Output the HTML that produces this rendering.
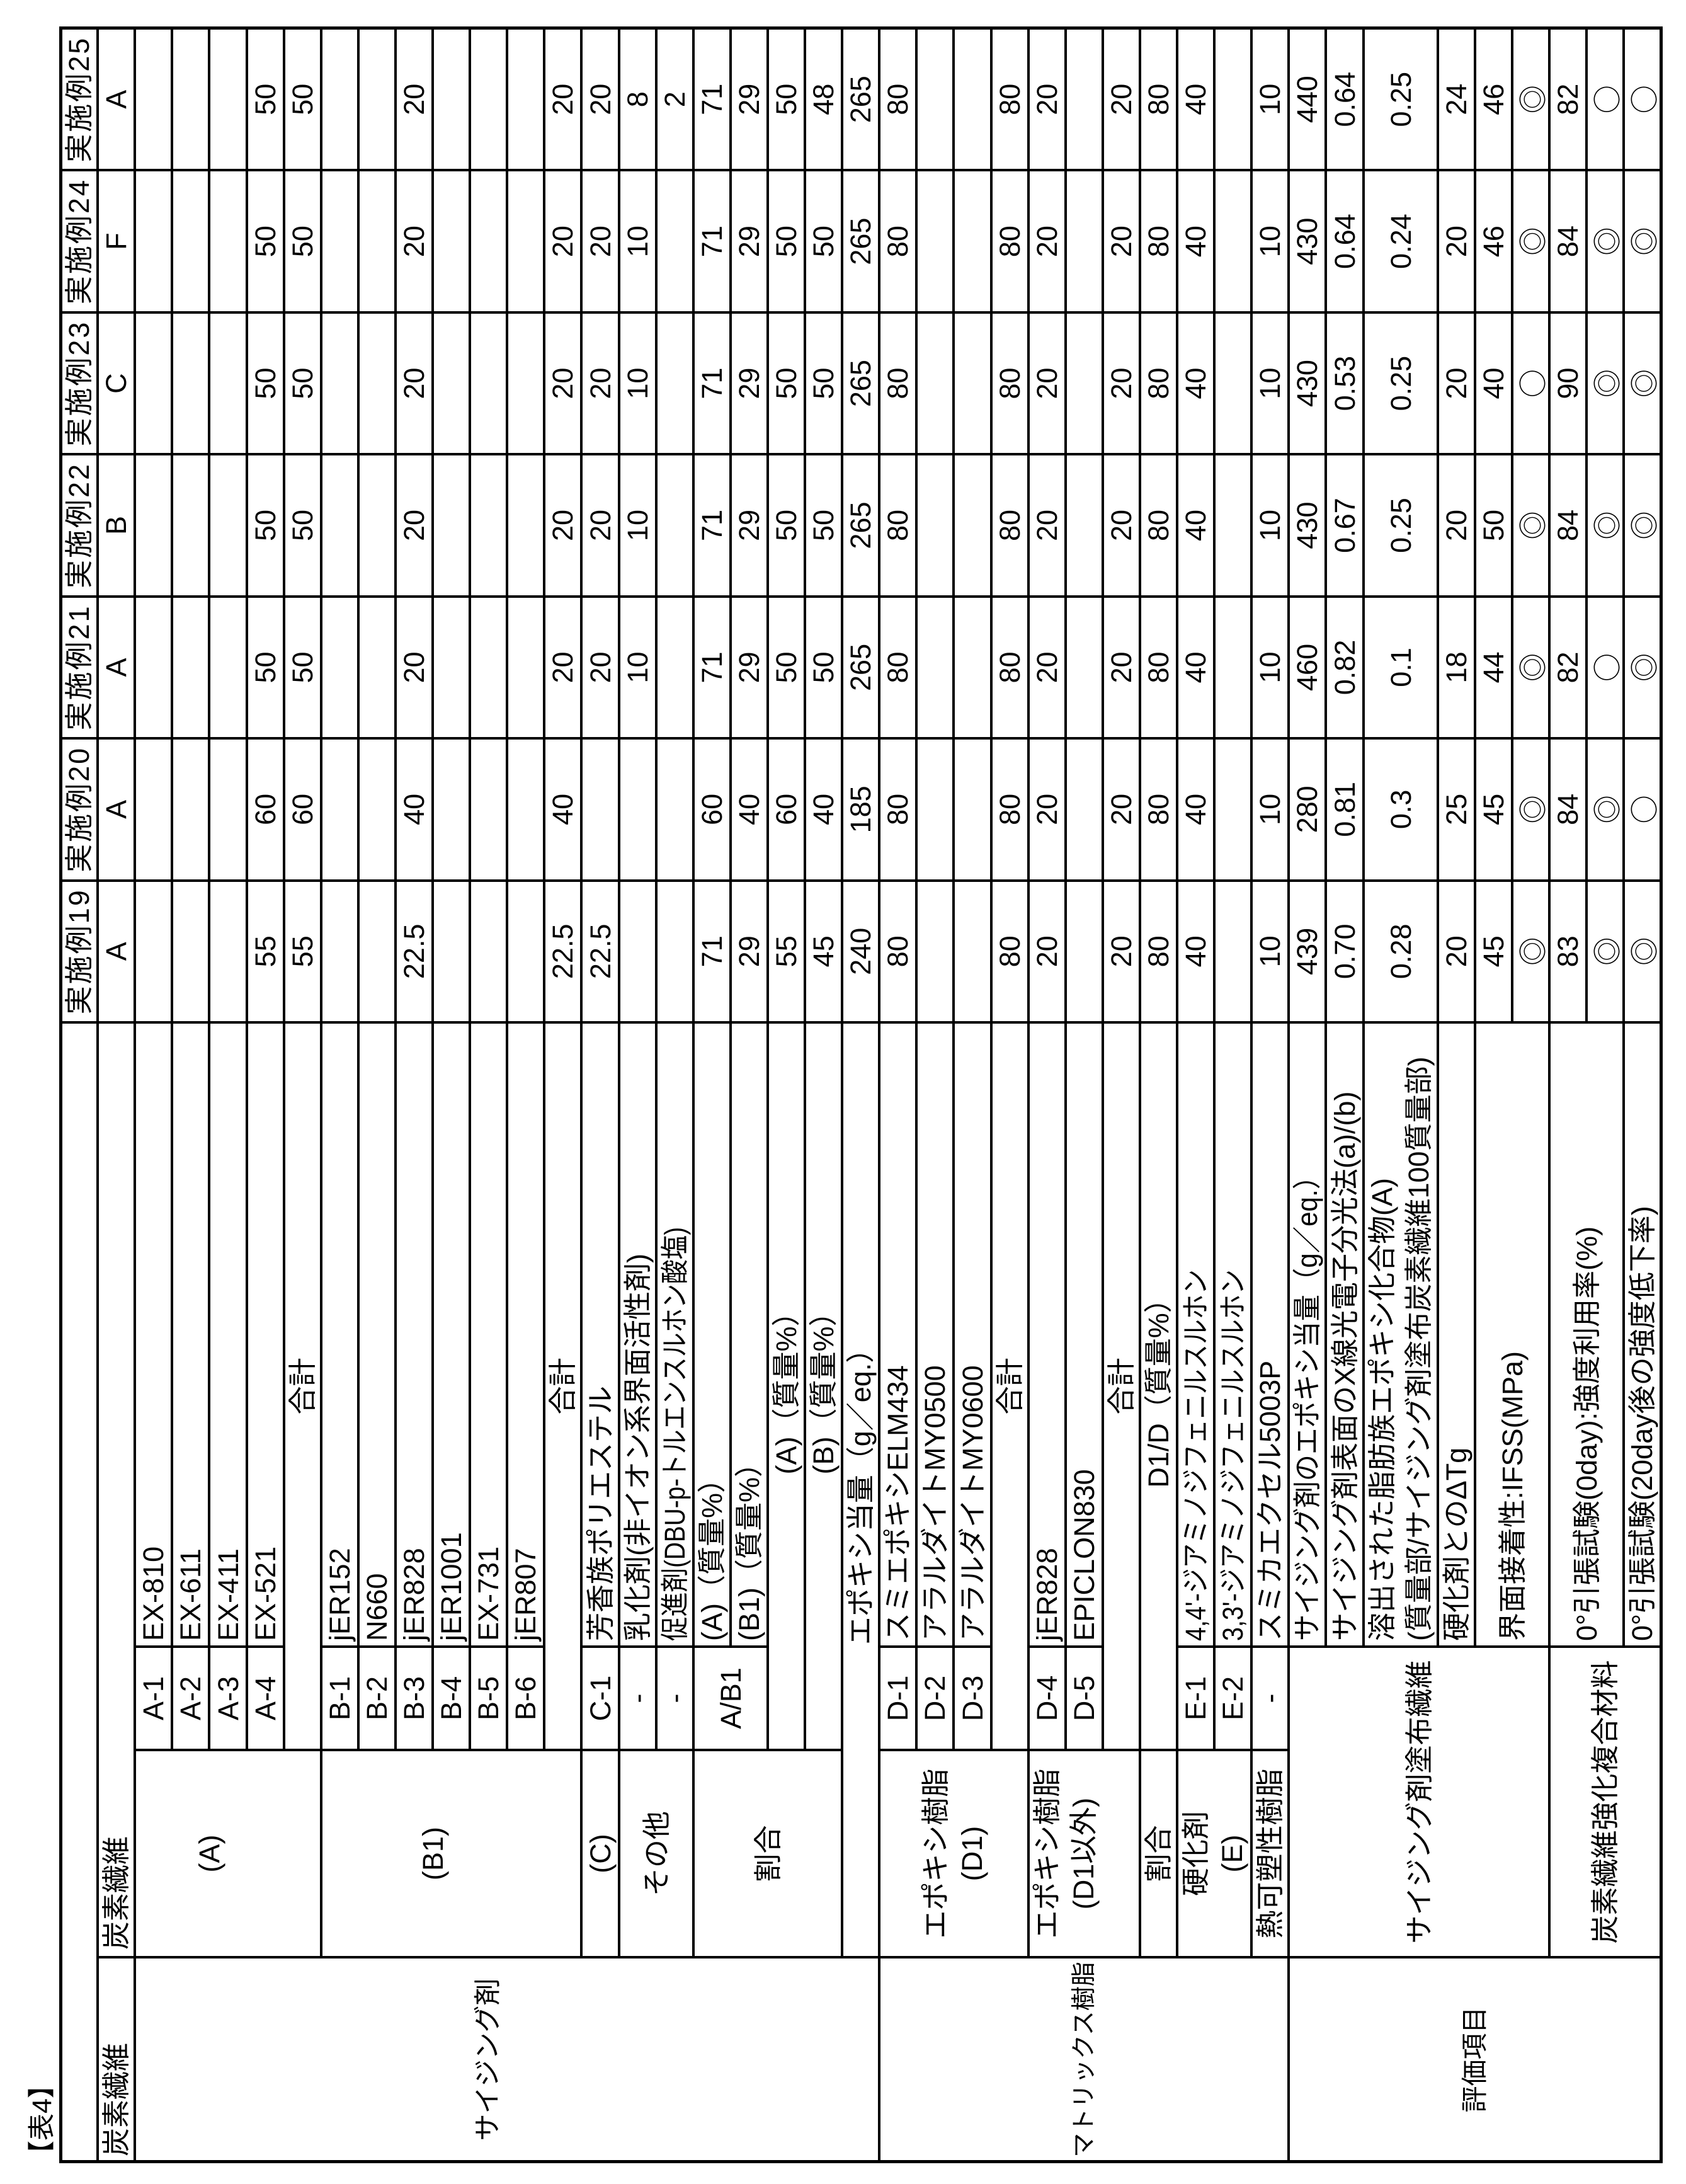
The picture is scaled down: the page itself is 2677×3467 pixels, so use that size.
<!DOCTYPE html>
<html><head><meta charset="utf-8"><style>
html,body{margin:0;padding:0;background:#fff}
body{width:2677px;height:3467px;position:relative;overflow:hidden}
#t{position:absolute;left:0;top:0;width:3467px;height:2677px;transform-origin:0 0;transform:translateY(3467px) rotate(-90deg);font-family:"Liberation Sans","Noto Sans CJK JP",sans-serif;font-size:45px;color:#000}
#t div{position:absolute}
.h{height:4px;background:#000}
.v{width:4px;background:#000}
.c{display:flex;align-items:center;justify-content:center;white-space:nowrap;line-height:1}
.l{justify-content:flex-start;padding-left:9px;box-sizing:border-box}
.r{left:1844px;width:1578px;display:grid;grid-template-columns:repeat(7,1fr)}
.r span{display:flex;align-items:center;justify-content:center;white-space:nowrap;line-height:1}
.j{font-family:"Noto Sans CJK JP",sans-serif}
.two{display:block;text-align:center;line-height:58px}
.twol{display:block;text-align:left;line-height:58px}
.sx{display:inline-block;transform-origin:0 50%}
</style></head><body><div id="t">
<!-- horizontal lines -->
<div class="h" style="left:33px;top:94px;width:3391px;height:5px"></div>
<div class="h" style="left:33px;top:2635px;width:3391px;height:5px"></div>
<div class="h" style="left:35px;top:153px;width:3389px"></div>
<div class="h" style="left:35px;top:212px;width:3389px"></div>
<div class="h" style="left:687px;top:271px;width:2737px"></div>
<div class="h" style="left:687px;top:330px;width:2737px"></div>
<div class="h" style="left:687px;top:390px;width:2737px"></div>
<div class="h" style="left:687px;top:449px;width:2737px"></div>
<div class="h" style="left:358px;top:508px;width:3066px"></div>
<div class="h" style="left:687px;top:567px;width:2737px"></div>
<div class="h" style="left:687px;top:626px;width:2737px"></div>
<div class="h" style="left:687px;top:685px;width:2737px"></div>
<div class="h" style="left:687px;top:744px;width:2737px"></div>
<div class="h" style="left:687px;top:803px;width:2737px"></div>
<div class="h" style="left:687px;top:862px;width:2737px"></div>
<div class="h" style="left:358px;top:921px;width:3066px"></div>
<div class="h" style="left:358px;top:981px;width:3066px"></div>
<div class="h" style="left:687px;top:1040px;width:2737px"></div>
<div class="h" style="left:358px;top:1099px;width:3066px"></div>
<div class="h" style="left:851px;top:1158px;width:2573px"></div>
<div class="h" style="left:687px;top:1217px;width:2737px"></div>
<div class="h" style="left:687px;top:1276px;width:2737px"></div>
<div class="h" style="left:358px;top:1335px;width:3066px"></div>
<div class="h" style="left:35px;top:1394px;width:3389px"></div>
<div class="h" style="left:687px;top:1453px;width:2737px"></div>
<div class="h" style="left:687px;top:1512px;width:2737px"></div>
<div class="h" style="left:687px;top:1572px;width:2737px"></div>
<div class="h" style="left:358px;top:1631px;width:3066px"></div>
<div class="h" style="left:687px;top:1690px;width:2737px"></div>
<div class="h" style="left:687px;top:1749px;width:2737px"></div>
<div class="h" style="left:358px;top:1808px;width:3066px"></div>
<div class="h" style="left:358px;top:1867px;width:3066px"></div>
<div class="h" style="left:687px;top:1926px;width:2737px"></div>
<div class="h" style="left:358px;top:1985px;width:3066px"></div>
<div class="h" style="left:35px;top:2044px;width:3389px"></div>
<div class="h" style="left:851px;top:2103px;width:2573px"></div>
<div class="h" style="left:851px;top:2163px;width:2573px"></div>
<div class="h" style="left:851px;top:2281px;width:2573px"></div>
<div class="h" style="left:851px;top:2340px;width:2573px"></div>
<div class="h" style="left:1842px;top:2399px;width:1582px"></div>
<div class="h" style="left:358px;top:2458px;width:3066px"></div>
<div class="h" style="left:1842px;top:2517px;width:1582px"></div>
<div class="h" style="left:851px;top:2576px;width:2573px"></div>
<!-- vertical lines -->
<div class="v" style="left:33px;top:94px;height:2546px;width:5px"></div>
<div class="v" style="left:358px;top:155px;height:2482px"></div>
<div class="v" style="left:687px;top:214px;height:1123px"></div>
<div class="v" style="left:687px;top:1396px;height:650px"></div>
<div class="v" style="left:851px;top:214px;height:237px"></div>
<div class="v" style="left:851px;top:510px;height:354px"></div>
<div class="v" style="left:851px;top:923px;height:296px"></div>
<div class="v" style="left:851px;top:1396px;height:178px"></div>
<div class="v" style="left:851px;top:1633px;height:118px"></div>
<div class="v" style="left:851px;top:1869px;height:768px"></div>
<div class="v" style="left:1842px;top:96px;height:2541px"></div>
<div class="v" style="left:2067px;top:96px;height:2541px"></div>
<div class="v" style="left:2293px;top:96px;height:2541px"></div>
<div class="v" style="left:2518px;top:96px;height:2541px"></div>
<div class="v" style="left:2744px;top:96px;height:2541px"></div>
<div class="v" style="left:2969px;top:96px;height:2541px"></div>
<div class="v" style="left:3195px;top:96px;height:2541px"></div>
<div class="v" style="left:3420px;top:94px;height:2546px;width:5px"></div>

<!-- title -->
<div class="c" style="left:26px;top:44px;height:46px;font-size:43px;justify-content:flex-start">【表4】</div>

<!-- category column -->
<div class="c l" style="left:35px;top:155px;width:325px;height:59px">炭素繊維</div>
<div class="c" style="left:35px;top:214px;width:325px;height:1123px;font-size:43px">サイジング剤</div>
<div class="c" style="left:35px;top:1396px;width:325px;height:650px;font-size:39px">マトリックス樹脂</div>
<div class="c" style="left:35px;top:2046px;width:325px;height:591px;font-size:42px">評価項目</div>

<!-- sub column -->
<div class="c l" style="left:360px;top:155px;width:1484px;height:59px;padding-left:12px">炭素繊維</div>
<div class="c" style="left:360px;top:214px;width:329px;height:237px">(A)</div>
<div class="c" style="left:360px;top:510px;width:329px;height:354px">(B1)</div>
<div class="c" style="left:360px;top:923px;width:329px;height:60px">(C)</div>
<div class="c" style="left:360px;top:983px;width:329px;height:118px">その他</div>
<div class="c" style="left:360px;top:1101px;width:329px;height:236px">割合</div>
<div class="c" style="left:360px;top:1337px;width:1484px;height:59px">エポキシ当量（g／eq.）</div>
<div class="c" style="left:360px;top:1396px;width:329px;height:237px"><span class="two">エポキシ樹脂<br>(D1)</span></div>
<div class="c" style="left:360px;top:1633px;width:329px;height:118px"><span class="two">エポキシ樹脂<br>(D1以外)</span></div>
<div class="c" style="left:360px;top:1810px;width:329px;height:59px">割合</div>
<div class="c" style="left:360px;top:1869px;width:329px;height:118px"><span class="two">硬化剤<br>(E)</span></div>
<div class="c" style="left:360px;top:1987px;width:329px;height:59px">熱可塑性樹脂</div>
<div class="c" style="left:360px;top:2046px;width:493px;height:414px">サイジング剤塗布繊維</div>
<div class="c" style="left:360px;top:2460px;width:493px;height:177px">炭素繊維強化複合材料</div>

<!-- code column -->
<div class="c" style="left:689px;top:214px;width:164px;height:59px">A-1</div>
<div class="c" style="left:689px;top:273px;width:164px;height:59px">A-2</div>
<div class="c" style="left:689px;top:332px;width:164px;height:60px">A-3</div>
<div class="c" style="left:689px;top:392px;width:164px;height:59px">A-4</div>
<div class="c" style="left:689px;top:510px;width:164px;height:59px">B-1</div>
<div class="c" style="left:689px;top:569px;width:164px;height:59px">B-2</div>
<div class="c" style="left:689px;top:628px;width:164px;height:59px">B-3</div>
<div class="c" style="left:689px;top:687px;width:164px;height:59px">B-4</div>
<div class="c" style="left:689px;top:746px;width:164px;height:59px">B-5</div>
<div class="c" style="left:689px;top:805px;width:164px;height:59px">B-6</div>
<div class="c" style="left:689px;top:923px;width:164px;height:60px">C-1</div>
<div class="c" style="left:689px;top:983px;width:164px;height:59px">-</div>
<div class="c" style="left:689px;top:1042px;width:164px;height:59px">-</div>
<div class="c" style="left:689px;top:1101px;width:164px;height:118px">A/B1</div>
<div class="c" style="left:689px;top:1396px;width:164px;height:59px">D-1</div>
<div class="c" style="left:689px;top:1455px;width:164px;height:59px">D-2</div>
<div class="c" style="left:689px;top:1514px;width:164px;height:60px">D-3</div>
<div class="c" style="left:689px;top:1633px;width:164px;height:59px">D-4</div>
<div class="c" style="left:689px;top:1692px;width:164px;height:59px">D-5</div>
<div class="c" style="left:689px;top:1869px;width:164px;height:59px">E-1</div>
<div class="c" style="left:689px;top:1928px;width:164px;height:59px">E-2</div>
<div class="c" style="left:689px;top:1987px;width:164px;height:59px">-</div>

<!-- merged code+name centered -->
<div class="c" style="left:689px;top:451px;width:1155px;height:59px">合計</div>
<div class="c" style="left:689px;top:864px;width:1155px;height:59px">合計</div>
<div class="c" style="left:689px;top:1219px;width:1155px;height:59px">(A)（質量%）</div>
<div class="c" style="left:689px;top:1278px;width:1155px;height:59px">(B)（質量%）</div>
<div class="c" style="left:689px;top:1574px;width:1155px;height:59px">合計</div>
<div class="c" style="left:689px;top:1751px;width:1155px;height:59px">合計</div>
<div class="c" style="left:689px;top:1810px;width:1155px;height:59px">D1/D（質量%）</div>

<!-- name column -->
<div class="c l" style="left:853px;top:214px;width:991px;height:59px">EX-810</div>
<div class="c l" style="left:853px;top:273px;width:991px;height:59px">EX-611</div>
<div class="c l" style="left:853px;top:332px;width:991px;height:60px">EX-411</div>
<div class="c l" style="left:853px;top:392px;width:991px;height:59px">EX-521</div>
<div class="c l" style="left:853px;top:510px;width:991px;height:59px">jER152</div>
<div class="c l" style="left:853px;top:569px;width:991px;height:59px">N660</div>
<div class="c l" style="left:853px;top:628px;width:991px;height:59px">jER828</div>
<div class="c l" style="left:853px;top:687px;width:991px;height:59px">jER1001</div>
<div class="c l" style="left:853px;top:746px;width:991px;height:59px">EX-731</div>
<div class="c l" style="left:853px;top:805px;width:991px;height:59px">jER807</div>
<div class="c l" style="left:853px;top:923px;width:991px;height:60px">芳香族ポリエステル</div>
<div class="c l" style="left:853px;top:983px;width:991px;height:59px">乳化剤(非イオン系界面活性剤)</div>
<div class="c l" style="left:853px;top:1042px;width:991px;height:59px"><span class="sx" style="transform:scaleX(.86)">促進剤(DBU-p-トルエンスルホン酸塩)</span></div>
<div class="c l" style="left:853px;top:1101px;width:991px;height:59px">(A)（質量%）</div>
<div class="c l" style="left:853px;top:1160px;width:991px;height:59px">(B1)（質量%）</div>
<div class="c l" style="left:853px;top:1396px;width:991px;height:59px">スミエポキシELM434</div>
<div class="c l" style="left:853px;top:1455px;width:991px;height:59px">アラルダイトMY0500</div>
<div class="c l" style="left:853px;top:1514px;width:991px;height:60px">アラルダイトMY0600</div>
<div class="c l" style="left:853px;top:1633px;width:991px;height:59px">jER828</div>
<div class="c l" style="left:853px;top:1692px;width:991px;height:59px">EPICLON830</div>
<div class="c l" style="left:853px;top:1869px;width:991px;height:59px"><span class="sx" style="transform:scaleX(.88)">4,4'-ジアミノジフェニルスルホン</span></div>
<div class="c l" style="left:853px;top:1928px;width:991px;height:59px"><span class="sx" style="transform:scaleX(.88)">3,3'-ジアミノジフェニルスルホン</span></div>
<div class="c l" style="left:853px;top:1987px;width:991px;height:59px">スミカエクセル5003P</div>
<div class="c l" style="left:853px;top:2046px;width:991px;height:59px"><span class="sx" style="transform:scaleX(.94)">サイジング剤のエポキシ当量（g／eq.）</span></div>
<div class="c l" style="left:853px;top:2105px;width:991px;height:60px">サイジング剤表面のX線光電子分光法(a)/(b)</div>
<div class="c l" style="left:853px;top:2165px;width:991px;height:118px"><span class="twol">溶出された脂肪族エポキシ化合物(A)<br>(質量部/サイジング剤塗布炭素繊維100質量部)</span></div>
<div class="c l" style="left:853px;top:2283px;width:991px;height:59px">硬化剤とのΔTg</div>
<div class="c l" style="left:853px;top:2342px;width:991px;height:118px">界面接着性:IFSS(MPa)</div>
<div class="c l" style="left:853px;top:2460px;width:991px;height:118px">0°引張試験(0day):強度利用率(%)</div>
<div class="c l" style="left:853px;top:2578px;width:991px;height:59px">0°引張試験(20day後の強度低下率)</div>

<!-- example values -->
<div class="r" style="top:96px;height:59px;letter-spacing:3px"><span>実施例19</span><span>実施例20</span><span>実施例21</span><span>実施例22</span><span>実施例23</span><span>実施例24</span><span>実施例25</span></div>
<div class="r" style="top:155px;height:59px"><span>A</span><span>A</span><span>A</span><span>B</span><span>C</span><span>F</span><span>A</span></div>
<div class="r" style="top:392px;height:59px"><span>55</span><span>60</span><span>50</span><span>50</span><span>50</span><span>50</span><span>50</span></div>
<div class="r" style="top:451px;height:59px"><span>55</span><span>60</span><span>50</span><span>50</span><span>50</span><span>50</span><span>50</span></div>
<div class="r" style="top:628px;height:59px"><span>22.5</span><span>40</span><span>20</span><span>20</span><span>20</span><span>20</span><span>20</span></div>
<div class="r" style="top:864px;height:59px"><span>22.5</span><span>40</span><span>20</span><span>20</span><span>20</span><span>20</span><span>20</span></div>
<div class="r" style="top:923px;height:60px"><span>22.5</span><span></span><span>20</span><span>20</span><span>20</span><span>20</span><span>20</span></div>
<div class="r" style="top:983px;height:59px"><span></span><span></span><span>10</span><span>10</span><span>10</span><span>10</span><span>8</span></div>
<div class="r" style="top:1042px;height:59px"><span></span><span></span><span></span><span></span><span></span><span></span><span>2</span></div>
<div class="r" style="top:1101px;height:59px"><span>71</span><span>60</span><span>71</span><span>71</span><span>71</span><span>71</span><span>71</span></div>
<div class="r" style="top:1160px;height:59px"><span>29</span><span>40</span><span>29</span><span>29</span><span>29</span><span>29</span><span>29</span></div>
<div class="r" style="top:1219px;height:59px"><span>55</span><span>60</span><span>50</span><span>50</span><span>50</span><span>50</span><span>50</span></div>
<div class="r" style="top:1278px;height:59px"><span>45</span><span>40</span><span>50</span><span>50</span><span>50</span><span>50</span><span>48</span></div>
<div class="r" style="top:1337px;height:59px"><span>240</span><span>185</span><span>265</span><span>265</span><span>265</span><span>265</span><span>265</span></div>
<div class="r" style="top:1396px;height:59px"><span>80</span><span>80</span><span>80</span><span>80</span><span>80</span><span>80</span><span>80</span></div>
<div class="r" style="top:1574px;height:59px"><span>80</span><span>80</span><span>80</span><span>80</span><span>80</span><span>80</span><span>80</span></div>
<div class="r" style="top:1633px;height:59px"><span>20</span><span>20</span><span>20</span><span>20</span><span>20</span><span>20</span><span>20</span></div>
<div class="r" style="top:1751px;height:59px"><span>20</span><span>20</span><span>20</span><span>20</span><span>20</span><span>20</span><span>20</span></div>
<div class="r" style="top:1810px;height:59px"><span>80</span><span>80</span><span>80</span><span>80</span><span>80</span><span>80</span><span>80</span></div>
<div class="r" style="top:1869px;height:59px"><span>40</span><span>40</span><span>40</span><span>40</span><span>40</span><span>40</span><span>40</span></div>
<div class="r" style="top:1987px;height:59px"><span>10</span><span>10</span><span>10</span><span>10</span><span>10</span><span>10</span><span>10</span></div>
<div class="r" style="top:2046px;height:59px"><span>439</span><span>280</span><span>460</span><span>430</span><span>430</span><span>430</span><span>440</span></div>
<div class="r" style="top:2105px;height:60px"><span>0.70</span><span>0.81</span><span>0.82</span><span>0.67</span><span>0.53</span><span>0.64</span><span>0.64</span></div>
<div class="r" style="top:2165px;height:118px"><span>0.28</span><span>0.3</span><span>0.1</span><span>0.25</span><span>0.25</span><span>0.24</span><span>0.25</span></div>
<div class="r" style="top:2283px;height:59px"><span>20</span><span>25</span><span>18</span><span>20</span><span>20</span><span>20</span><span>24</span></div>
<div class="r" style="top:2342px;height:59px"><span>45</span><span>45</span><span>44</span><span>50</span><span>40</span><span>46</span><span>46</span></div>
<div class="r j" style="top:2401px;height:59px"><span>◎</span><span>◎</span><span>◎</span><span>◎</span><span>○</span><span>◎</span><span>◎</span></div>
<div class="r" style="top:2460px;height:59px"><span>83</span><span>84</span><span>82</span><span>84</span><span>90</span><span>84</span><span>82</span></div>
<div class="r j" style="top:2519px;height:59px"><span>◎</span><span>◎</span><span>○</span><span>◎</span><span>◎</span><span>◎</span><span>○</span></div>
<div class="r j" style="top:2578px;height:59px"><span>◎</span><span>○</span><span>◎</span><span>◎</span><span>◎</span><span>◎</span><span>○</span></div>
</div></body></html>
